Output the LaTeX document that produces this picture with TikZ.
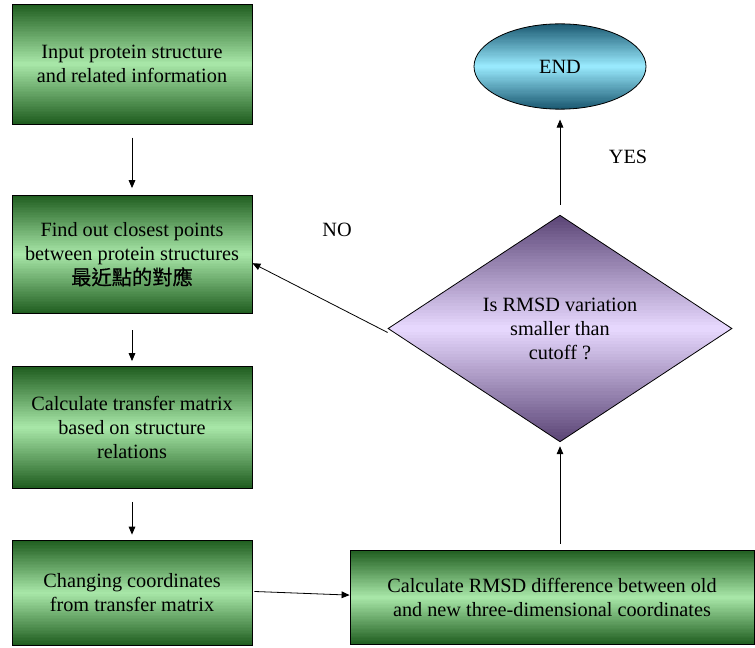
\documentclass[tikz,border=0pt]{standalone}
\usepackage{fontspec}
\setmainfont{Liberation Serif}
\newfontfamily\cjkfont[FakeBold=0.5]{Noto Sans CJK TC}
\usetikzlibrary{arrows.meta,shapes.geometric,calc}

\definecolor{greendark}{HTML}{1E5C1E}
\definecolor{greenlight}{HTML}{A9E8A9}
\definecolor{tealdark}{HTML}{1A5870}
\definecolor{teallight}{HTML}{9AEBFF}
\definecolor{violetdark}{HTML}{5A4475}
\definecolor{violetlight}{HTML}{E8D9FF}

% Vertical dark-light-dark gradient, built from thin strips inside a node's path
\newcommand\shadestrips[2]{%
  \foreach \gi in {0,...,71}{%
    \pgfmathsetmacro\gmix{abs((\gi+0.5)/36-1)*100}%
    \fill[#1!\gmix!#2]
      ($(path picture bounding box.north west)!{\gi/72}!(path picture bounding box.south west)$)
      rectangle
      ($(path picture bounding box.north east)!{(\gi+1.6)/72}!(path picture bounding box.south east)$);
  }}

\tikzset{
  px/.style={x=0.75pt,y=-0.75pt},
  txt/.style={font=\fontsize{15.2pt}{18pt}\selectfont, align=center, text=black},
  stepbox/.style={txt, draw=black, line width=0.6pt, rectangle, inner sep=0pt,
    path picture={\shadestrips{greendark}{greenlight}}},
  endnode/.style={txt, draw=black, line width=0.6pt, ellipse, inner sep=0pt,
    minimum width=129pt, minimum height=64pt,
    path picture={\shadestrips{tealdark}{teallight}}},
  decision/.style={txt, draw=black, line width=0.6pt, diamond, inner sep=0pt, aspect=1.5,
    minimum width=258pt, minimum height=170pt,
    path picture={\shadestrips{violetdark}{violetlight}}},
  flow/.style={draw=black, line width=0.6pt, -{Triangle[length=6pt,width=5pt]}},
  answer/.style={font=\fontsize{15.2pt}{18pt}\selectfont, text=black}
}

\begin{document}
\begin{tikzpicture}[px]
  \useasboundingbox (0,0) rectangle (755,648);

  % process steps
  \node[stepbox, minimum width=180pt, minimum height=90pt] (input) at (132,64)
    {Input protein structure\\and related information};
  \node[stepbox, minimum width=180pt, minimum height=89pt] (closest) at (132,254.5)
    {Find out closest points\\between protein structures\\{\cjkfont 最近點的對應}};
  \node[stepbox, minimum width=180pt, minimum height=91pt] (matrix) at (132,427.5)
    {Calculate transfer matrix\\based on structure\\relations};
  \node[stepbox, minimum width=180pt, minimum height=79pt] (coords) at (132,593)
    {Changing coordinates\\from transfer matrix};
  \node[stepbox, minimum width=303pt, minimum height=71pt] (rmsd) at (552,597.5)
    {Calculate RMSD difference between old\\and new three-dimensional coordinates};

  % decision and terminal
  \node[decision] (check) at (560,328.5)
    {Is RMSD variation\\smaller than\\cutoff ?};
  \node[endnode] (finish) at (560,66.5) {END};

  % branch labels
  \node[answer] (yes) at (628,157) {YES};
  \node[answer] (no) at (337,230) {NO};

  % connectors
  \draw[flow, shorten <=10pt, shorten >=5pt] (input.south) -- (closest.north);
  \draw[flow, shorten <=12pt, shorten >=4pt] (closest.south) -- (matrix.north);
  \draw[flow, shorten <=10pt, shorten >=4pt] (matrix.south) -- (coords.north);
  \draw[flow, shorten <=1.5pt] ([yshift=1.2pt]coords.east) -- ([yshift=1.8pt]rmsd.west);
  \draw[flow, shorten <=4.5pt, shorten >=3pt] (rmsd.north -| check.south) -- (check.south);
  \draw[flow, shorten <=7.5pt, shorten >=7.5pt] (check.north) -- (finish.south);
  \draw[flow] ([yshift=-3pt]check.west) -- ([yshift=-6.5pt]closest.east);
\end{tikzpicture}
\end{document}
